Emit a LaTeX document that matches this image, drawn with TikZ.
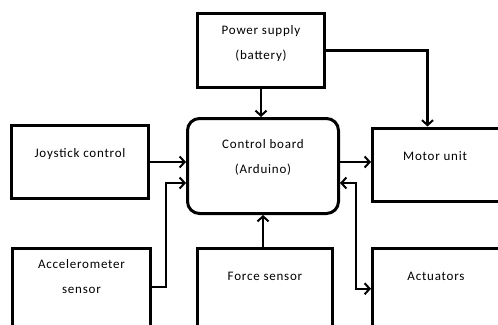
\documentclass[tikz,border=0pt]{standalone}
\usepackage{fontspec}
\setmainfont[LetterSpace=6]{Carlito}
\usetikzlibrary{arrows.meta}
\tikzset{
  box/.style={rectangle, draw=black, line width=3pt, inner sep=0pt},
  roundbox/.style={box, rounded corners=12pt},
  txt/.style={align=center, font=\fontsize{13}{25}\selectfont},
  flow/.style={-{Straight Barb[length=5pt, width=11pt, line width=2pt]}, line width=2.2pt, draw=black},
  twoway/.style={{Straight Barb[length=5pt, width=11pt, line width=2pt]}-{Straight Barb[length=5pt, width=11pt, line width=2pt]}, line width=2.2pt, draw=black}
}
\begin{document}
\begin{tikzpicture}[x=1pt, y=-1pt]

\useasboundingbox (0,0) rectangle (498,324);
\clip (0,0) rectangle (498,324);

% boxes
\node[box, minimum width=127, minimum height=74] (power) at (261, 50.5) {};
\node[roundbox, minimum width=151, minimum height=95] (control) at (263, 166) {};
\node[box, minimum width=137, minimum height=73] (joystick) at (80, 162) {};
\node[box, minimum width=147.5, minimum height=73.5] (motor) at (446.25, 164.75) {};
\node[box, minimum width=138, minimum height=111.5] (accel) at (81.5, 304.25) {};
\node[box, minimum width=135, minimum height=111.5] (force) at (265, 304.25) {};
\node[box, minimum width=147.5, minimum height=111.5] (actuators) at (446.25, 303.75) {};

% texts
\node[txt] (powertxt) at (261, 44) {Power supply\\(battery)};
\node[txt] (controltxt) at (263, 157) {Control board\\(Arduino)};
\node[txt] (joysticktxt) at (80, 154) {Joystick control};
\node[txt] (motortxt) at (435, 156) {Motor unit};
\node[txt] (acceltxt) at (81.5, 277) {Accelerometer\\sensor};
\node[txt] (forcetxt) at (265, 276) {Force sensor};
\node[txt] (actuatorstxt) at (436, 276) {Actuators};

% connectors
\draw[flow] (power.south) -- (power.south |- control.north);
\draw[flow] (power.east) -| ([xshift=56.5pt]motor.north west);
\draw[flow] (joystick.east) -- (joystick.east -| control.west);
\draw[flow] ([yshift=17pt]accel.east) -| ([xshift=-20pt, yshift=-17pt]control.west) -- ([yshift=-17pt]control.west);
\draw[flow] (control.south |- force.north) -- (control.south);
\draw[flow] ([yshift=4pt]control.east) -- ([yshift=4pt]control.east -| motor.west);
\draw[twoway] ([yshift=-17pt]control.east) -| ([xshift=-15pt, yshift=15pt]actuators.west) -- ([yshift=15pt]actuators.west);

\end{tikzpicture}
\end{document}
